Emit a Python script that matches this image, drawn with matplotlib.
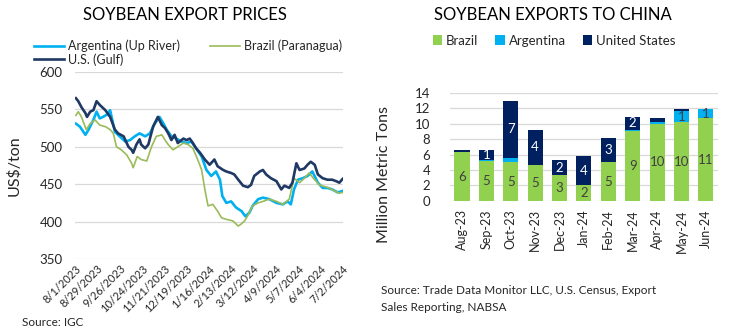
import numpy as np
import pandas as pd
import matplotlib
matplotlib.use("Agg")
import matplotlib.pyplot as plt

plt.rcParams["font.family"] = ["Lato", "DejaVu Sans"]

# ---------------- export prices (US$/ton), days counted from 8/1/2023 ----------------
start = pd.Timestamp("2023-08-01")

us_days = [1, 4, 8, 13, 15, 19, 23, 27, 31, 38, 44, 50, 54, 61, 67, 71, 73, 77, 81, 83,
           88, 92, 98, 104, 109, 113, 117, 121, 125, 129, 136, 140, 144, 148, 152, 157,
           163, 169, 175, 179, 186, 190, 196, 200, 205, 211, 217, 221, 225, 232, 236,
           240, 246, 253, 259, 263, 269, 273, 278, 282, 288, 292, 296, 301, 305, 311,
           317, 323, 328, 332, 336]
us_gulf = [565, 561, 553, 545, 540, 547, 549, 561, 556, 549, 540, 523, 518, 514, 500,
           496, 492, 503, 510, 503, 498, 503, 527, 540, 529, 525, 518, 509, 516, 505,
           511, 509, 511, 505, 498, 492, 483, 476, 483, 474, 469, 467, 465, 463, 456,
           448, 446, 449, 461, 467, 469, 463, 458, 454, 443, 448, 445, 452, 478, 469,
           471, 476, 480, 476, 463, 458, 456, 456, 454, 452, 457]

arg_days = [1, 6, 13, 17, 23, 27, 31, 35, 40, 44, 50, 56, 63, 69, 75, 81, 88, 94, 100,
            106, 111, 115, 121, 127, 134, 140, 146, 152, 159, 165, 171, 177, 182, 185,
            190, 196, 202, 209, 214, 219, 223, 230, 236, 244, 253, 261, 267, 271, 275,
            280, 286, 292, 298, 305, 311, 317, 323, 330, 336]
argentina_up_river = [531, 527, 516, 523, 536, 547, 538, 540, 543, 549, 520, 514, 507,
                      509, 514, 518, 514, 518, 531, 540, 531, 523, 514, 511, 507, 505,
                      507, 498, 487, 469, 461, 467, 456, 434, 425, 427, 419, 414, 407,
                      412, 421, 430, 432, 430, 425, 423, 427, 423, 443, 456, 458, 461,
                      467, 452, 445, 445, 443, 439, 441]

bra_days = [1, 4, 8, 14, 19, 25, 31, 38, 44, 48, 52, 58, 65, 71, 73, 78, 83, 90, 96,
            102, 109, 113, 117, 123, 129, 136, 142, 148, 154, 159, 163, 167, 173, 179,
            184, 190, 198, 205, 209, 213, 217, 223, 230, 236, 244, 253, 261, 269, 275,
            282, 288, 294, 301, 307, 313, 319, 326, 332, 336]
brazil_paranagua = [542, 547, 540, 523, 531, 536, 529, 527, 523, 518, 500, 496, 489,
                    478, 472, 487, 483, 481, 500, 514, 516, 509, 503, 496, 500, 505,
                    503, 498, 483, 469, 443, 421, 423, 414, 405, 403, 401, 394, 397,
                    401, 408, 421, 425, 427, 430, 427, 423, 430, 458, 452, 458, 465,
                    456, 449, 447, 445, 441, 438, 439]

price_ticks = ["8/1/2023", "8/29/2023", "9/26/2023", "10/24/2023", "11/21/2023",
               "12/19/2023", "1/16/2024", "2/13/2024", "3/12/2024", "4/9/2024",
               "5/7/2024", "6/4/2024", "7/2/2024"]

# ---------------- exports to China (million metric tons) ----------------
months = ["Aug-23", "Sep-23", "Oct-23", "Nov-23", "Dec-23", "Jan-24",
          "Feb-24", "Mar-24", "Apr-24", "May-24", "Jun-24"]
brazil = [6.3, 5.2, 5.0, 4.6, 3.3, 2.0, 5.0, 9.1, 10.0, 10.2, 10.7]
argentina = [0.1, 0.15, 0.6, 0.1, 0.05, 0.0, 0.0, 0.1, 0.2, 1.4, 1.2]
united_states = [0.2, 1.3, 7.4, 4.5, 1.9, 3.8, 3.2, 1.7, 0.5, 0.3, 0.0]


def to_dates(days):
    return start + pd.to_timedelta(days, unit="D")


fig = plt.figure(figsize=(7.29, 3.32), dpi=100)
txt = "#262626"
grid = "#D9D9D9"

# ================= left: price lines =================
ax1 = fig.add_axes([0.103, 0.220, 0.368, 0.563])
l_arg, = ax1.plot(to_dates(arg_days), argentina_up_river, color="#00B0F0", lw=1.9,
                  label="Argentina (Up River)")
l_bra, = ax1.plot(to_dates(bra_days), brazil_paranagua, color="#9BBB59", lw=1.2,
                  label="Brazil (Paranagua)")
l_us, = ax1.plot(to_dates(us_days), us_gulf, color="#1F3864", lw=1.9, label="U.S. (Gulf)")

tick_dates = pd.to_datetime(price_ticks, format="%m/%d/%Y")
ax1.set_xticks(tick_dates)
ax1.set_xticklabels(price_ticks, rotation=45, ha="right", rotation_mode="anchor",
                    fontsize=8, color=txt)
ax1.set_xlim(start, tick_dates[-1] + pd.Timedelta(days=1))
ax1.set_ylim(350, 600)
ax1.set_yticks(np.arange(350, 601, 50))
ax1.tick_params(axis="y", labelsize=9.5, colors=txt, length=0, pad=9)
ax1.tick_params(axis="x", length=0, pad=3)
ax1.grid(axis="y", color=grid, lw=0.9)
ax1.set_axisbelow(True)
for s in ax1.spines.values():
    s.set_visible(False)
ax1.set_ylabel("US$/ton", fontsize=11.5, color=txt)
ax1.yaxis.set_label_coords(-0.2, 0.5)

fig.legend([l_arg, l_us, l_bra], ["Argentina (Up River)", "U.S. (Gulf)", "Brazil (Paranagua)"],
           ncol=2, loc="upper left", bbox_to_anchor=(0.04, 0.895), frameon=False,
           fontsize=9, handlelength=2.4, handletextpad=0.3, columnspacing=2.4,
           labelspacing=0.05, borderaxespad=0, labelcolor=txt)

fig.text(0.254, 0.955, "SOYBEAN EXPORT PRICES", ha="center", va="center",
         fontsize=12, color="black")
fig.text(0.03, 0.03, "Source: IGC", fontsize=8.5, color=txt, va="center")

# ================= right: stacked bars =================
ax2 = fig.add_axes([0.617, 0.395, 0.368, 0.325])
x = np.arange(len(months))
w = 0.62
b1 = ax2.bar(x, brazil, w, color="#92D050", label="Brazil")
b2 = ax2.bar(x, argentina, w, bottom=brazil, color="#00B0F0", label="Argentina")
base = np.array(brazil) + np.array(argentina)
b3 = ax2.bar(x, united_states, w, bottom=base, color="#002060", label="United States")


def labels(vals):
    return [f"{v:.0f}" if v >= 1 else "" for v in vals]


ax2.bar_label(b1, labels=labels(brazil), label_type="center", fontsize=9.5, color="#404040")
ax2.bar_label(b2, labels=labels(argentina), label_type="center", fontsize=9.5, color="#404040")
ax2.bar_label(b3, labels=labels(united_states), label_type="center", fontsize=9.5,
              color="white")

ax2.set_xlim(-0.5, 10.5)
ax2.set_ylim(0, 14)
ax2.set_yticks(np.arange(0, 15, 2))
ax2.set_xticks(x)
ax2.set_xticklabels(months, rotation=90, fontsize=9, color=txt)
ax2.tick_params(axis="y", labelsize=9.5, colors=txt, length=0, pad=14)
ax2.tick_params(axis="x", length=0, pad=6)
ax2.grid(axis="y", color=grid, lw=0.9)
ax2.set_axisbelow(True)
for s in ax2.spines.values():
    s.set_visible(False)
ax2.set_ylabel("Million Metric Tons", fontsize=11.5, color=txt)
ax2.yaxis.set_label_coords(-0.22, 0.24)

fig.legend([b1, b2, b3], ["Brazil", "Argentina", "United States"], ncol=3,
           loc="center", bbox_to_anchor=(0.76, 0.878), frameon=False, fontsize=9.5,
           handlelength=0.7, handleheight=0.7, handletextpad=0.3, columnspacing=1.3,
           labelcolor=txt)

fig.text(0.758, 0.955, "SOYBEAN EXPORTS TO CHINA", ha="center", va="center",
         fontsize=12, color="black")
fig.text(0.522, 0.125, "Source: Trade Data Monitor LLC, U.S. Census, Export",
         fontsize=8.5, color=txt, va="center")
fig.text(0.522, 0.073, "Sales Reporting, NABSA", fontsize=8.5, color=txt, va="center")

fig.savefig("out.png", dpi=100)
